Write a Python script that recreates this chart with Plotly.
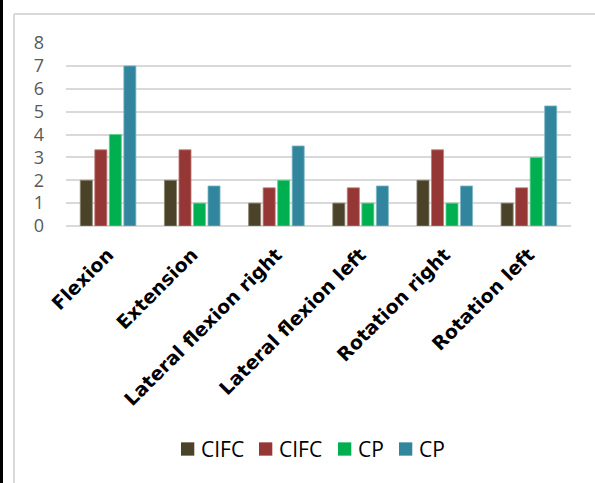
import plotly.graph_objects as go

# Range-of-motion categories and the four series
categories = ["Flexion", "Extension", "Lateral flexion right",
              "Lateral flexion left", "Rotation right", "Rotation left"]
series_names = ["CIFC", "CIFC", "CP", "CP"]
cifc_a = [2, 2, 1, 1, 2, 1]
cifc_b = [3.33, 3.33, 1.67, 1.67, 3.33, 1.67]
cp_a = [4, 1, 2, 1, 1, 3]
cp_b = [7, 1.75, 3.5, 1.75, 1.75, 5.25]
colors = ["#4a4229", "#953735", "#00b050", "#31859c"]
edge_colors = ["#8a8470", "#c07a78", "#5fd08f", "#7fb7c6"]
y_ticks = [0, 1, 2, 3, 4, 5, 6, 7, 8]

W, H = 595, 483
L, R, T, B = 66, 24, 43, 257
pw, ph = W - L - R, H - T - B

fig = go.Figure()
for name, vals, c, ec in zip(series_names, [cifc_a, cifc_b, cp_a, cp_b], colors, edge_colors):
    fig.add_trace(go.Bar(x=categories, y=vals, name=name,
                         marker=dict(color=c, line=dict(color=ec, width=0.8))))


def px_x(p):
    return (p - L) / pw


def px_y(p):
    return (H - B - p) / ph


shapes = [
    # dark strip on the left edge
    dict(type="rect", xref="paper", yref="paper",
         x0=px_x(0), x1=px_x(3), y0=px_y(H), y1=px_y(0),
         fillcolor="black", line=dict(width=0)),
    # light frame: left and top edges
    dict(type="line", xref="paper", yref="paper",
         x0=px_x(14), x1=px_x(14), y0=px_y(14), y1=px_y(H),
         line=dict(color="#d9d9d9", width=2)),
    dict(type="line", xref="paper", yref="paper",
         x0=px_x(14), x1=px_x(W), y0=px_y(14), y1=px_y(14),
         line=dict(color="#d9d9d9", width=2)),
]

# Legend row below the category labels: swatch + label per series
legend_left = [181, 259, 338, 399]
legend_mid_y = 449
swatch = 13.3
annotations = []
for name, c, lx in zip(series_names, colors, legend_left):
    shapes.append(dict(type="rect", xref="paper", yref="paper",
                       x0=px_x(lx), x1=px_x(lx + swatch),
                       y0=px_y(legend_mid_y + swatch / 2), y1=px_y(legend_mid_y - swatch / 2),
                       fillcolor=c, line=dict(width=0)))
    annotations.append(dict(xref="paper", yref="paper", x=px_x(lx + swatch + 5),
                            y=px_y(legend_mid_y), xanchor="left", yanchor="middle",
                            text=name, showarrow=False,
                            font=dict(family="Open Sans", size=21, color="black")))

fig.update_layout(
    width=W, height=H,
    margin=dict(l=L, r=R, t=T, b=B),
    paper_bgcolor="white", plot_bgcolor="white",
    barmode="group", bargap=0.31, bargroupgap=0.17,
    showlegend=False,
    shapes=shapes,
    annotations=annotations,
    xaxis=dict(tickangle=-45, showgrid=False, showline=False, ticks="",
               tickfont=dict(family="DejaVu Sans", size=19, color="black", weight="bold"),
               ticklabelstandoff=13),
    yaxis=dict(range=[0, 8], tickvals=y_ticks, showgrid=True,
               gridcolor="#d9d9d9", gridwidth=1.8, zeroline=True,
               zerolinecolor="#d9d9d9", zerolinewidth=1.8, showline=False,
               tickfont=dict(family="Open Sans", size=18, color="#595959"),
               ticklabelstandoff=21),
)

fig.write_html("out.html")
